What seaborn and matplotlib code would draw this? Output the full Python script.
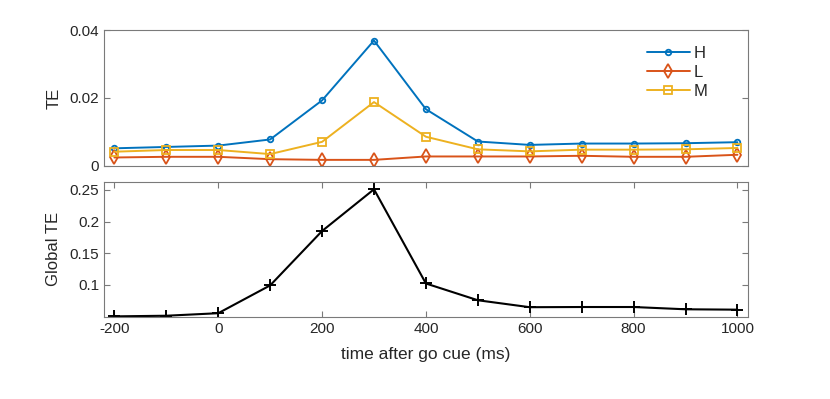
import numpy as np
import pandas as pd
import matplotlib
matplotlib.use("Agg")
import matplotlib.pyplot as plt
import seaborn as sns

# time after go cue (ms)
time_ms = [-200, -100, 0, 100, 200, 300, 400, 500, 600, 700, 800, 900, 1000]

te_h = [0.0052, 0.0056, 0.0060, 0.0078, 0.0193, 0.0369, 0.0167, 0.0072, 0.0062, 0.0066, 0.0066, 0.0067, 0.0070]
te_l = [0.0025, 0.0027, 0.0027, 0.0020, 0.0018, 0.0018, 0.0028, 0.0028, 0.0028, 0.0030, 0.0027, 0.0027, 0.0033]
te_m = [0.0042, 0.0047, 0.0047, 0.0035, 0.0071, 0.0188, 0.0086, 0.0049, 0.0043, 0.0048, 0.0048, 0.0049, 0.0053]

global_te = [0.0500, 0.0510, 0.0550, 0.0990, 0.1850, 0.2510, 0.1020, 0.0755, 0.0645, 0.0648, 0.0648, 0.0612, 0.0606]

groups = ["H", "L", "M"]
colors = {"H": "#0072BD", "L": "#D95319", "M": "#EDB120"}
markers = {"H": "o", "L": "d", "M": "s"}
msizes = {"H": 4.0, "L": 7.0, "M": 5.5}

sns.set_style("white")
plt.rcParams["font.family"] = ["Liberation Sans", "DejaVu Sans"]
plt.rcParams["axes.edgecolor"] = "#7a7a7a"
plt.rcParams["axes.linewidth"] = 0.8
plt.rcParams["xtick.color"] = "#7a7a7a"
plt.rcParams["ytick.color"] = "#7a7a7a"
plt.rcParams["xtick.labelcolor"] = "#262626"
plt.rcParams["ytick.labelcolor"] = "#262626"

df_top = pd.DataFrame({"time": time_ms * 3,
                       "TE": te_h + te_l + te_m,
                       "group": ["H"] * 13 + ["L"] * 13 + ["M"] * 13})
df_bot = pd.DataFrame({"time": time_ms, "global": global_te})

fig = plt.figure(figsize=(8.3, 3.99), dpi=100)
ax1 = fig.add_axes([0.1253, 0.584, 0.7757, 0.3408])
ax2 = fig.add_axes([0.1253, 0.2063, 0.7757, 0.3383])

for g in groups:
    sub = df_top[df_top["group"] == g]
    sns.lineplot(data=sub, x="time", y="TE", ax=ax1, color=colors[g], marker=markers[g],
                 markersize=msizes[g], markerfacecolor="none", markeredgecolor=colors[g],
                 markeredgewidth=1.3, linewidth=1.4, label=g)

sns.lineplot(data=df_bot, x="time", y="global", ax=ax2, color="black", marker="+",
             markersize=9, markeredgecolor="black", markeredgewidth=1.4, linewidth=1.5)

for ax in (ax1, ax2):
    ax.set_xlim(-220, 1020)
    ax.tick_params(direction="in", length=4, width=0.8, labelsize=11,
                   top=True, right=True, bottom=True, left=True)

ax1.set_ylim(0, 0.04)
ax1.set_yticks([0, 0.02, 0.04])
ax1.set_yticklabels(["0", "0.02", "0.04"])
ax1.set_xticks([])
ax1.set_xlabel("")
ax1.set_ylabel("TE", fontsize=12, color="#262626", labelpad=6)
ax1.legend(loc="upper right", bbox_to_anchor=(0.96, 0.995), frameon=False, fontsize=12,
           handlelength=2.6, handletextpad=0.2, labelspacing=0.25)

ax2.set_ylim(0.0495, 0.263)
ax2.set_yticks([0.1, 0.15, 0.2, 0.25])
ax2.set_yticklabels(["0.1", "0.15", "0.2", "0.25"])
ax2.set_xticks(np.arange(-200, 1001, 200))
ax2.set_xticklabels(["-200", "0", "200", "400", "600", "800", "1000"])
ax2.set_xlabel("time after go cue (ms)", fontsize=12.5, color="#262626", labelpad=8)
ax2.set_ylabel("Global TE", fontsize=12, color="#262626", labelpad=6)

fig.savefig("out.png", dpi=100)
